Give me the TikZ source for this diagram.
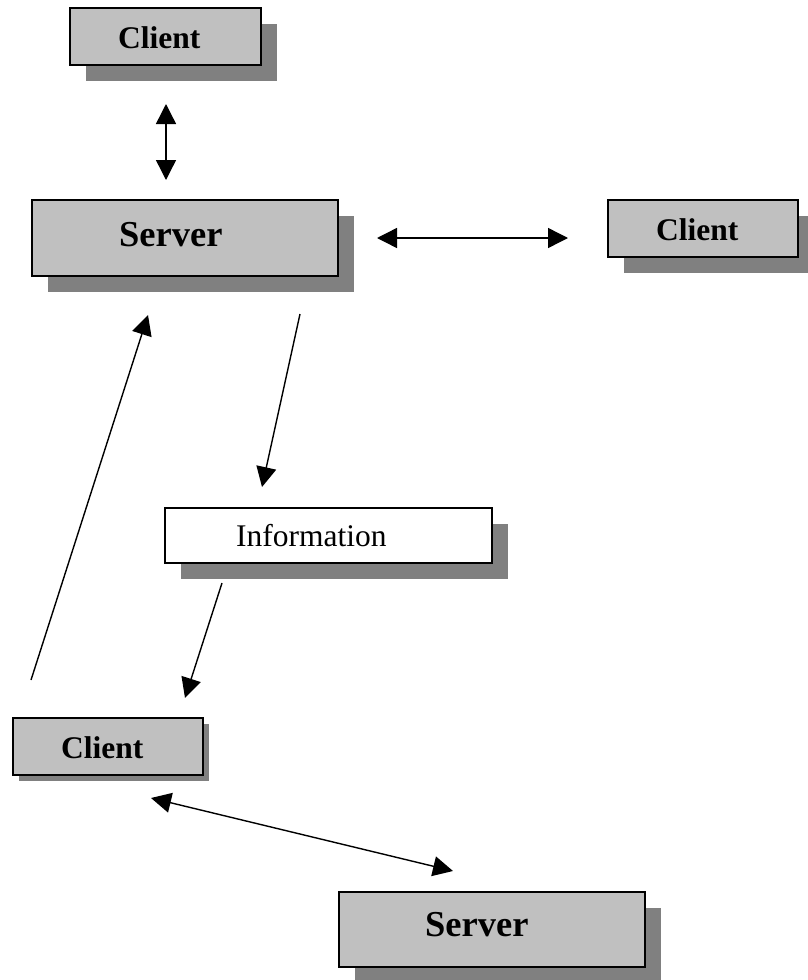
\documentclass[tikz,border=0pt]{standalone}
\usepackage{fontspec}
\setmainfont{Liberation Serif}
\usetikzlibrary{arrows.meta,shadows}
\definecolor{boxgrey}{RGB}{192,192,192}
\definecolor{shadowgrey}{RGB}{128,128,128}
\begin{document}
\begin{tikzpicture}[x=1pt,y=-1pt,
  box/.style={draw=black,line width=1.7pt,fill=boxgrey,inner sep=0pt,
    drop shadow={shadow xshift=#1,shadow yshift=-#1,fill=shadowgrey,opacity=1}},
  box/.default=16pt,
  boxlabel/.style={anchor=base west,inner sep=0pt,font=\fontsize{31.5}{36}\selectfont\bfseries},
  biglabel/.style={anchor=base west,inner sep=0pt,font=\fontsize{36.5}{42}\selectfont\bfseries},
  arr/.style={line width=1.4pt,-{Triangle[length=20pt,width=20pt]}},
  dbl/.style={line width=1.4pt,{Triangle[length=20pt,width=20pt]}-{Triangle[length=20pt,width=20pt]}}]
\useasboundingbox (0,0) rectangle (807,980);
% boxes
\node[box,minimum width=191.5pt,minimum height=57.5pt] (client1) at (165.5,36.5) {};
\node[box,minimum width=306.5pt,minimum height=76.5pt] (server1) at (185,238) {};
\node[box,minimum width=190.5pt,minimum height=57.5pt] (client2) at (703,228.5) {};
\node[box,fill=white,minimum width=327.5pt,minimum height=55.5pt] (info) at (328.5,535.5) {};
\node[box=6pt,minimum width=190.5pt,minimum height=57.5pt] (client3) at (108,746.5) {};
\node[box,minimum width=306.5pt,minimum height=75.5pt] (server2) at (492,929.5) {};
% labels
\node[boxlabel] (client1txt) at (118,48) {Client};
\node[biglabel] (server1txt) at (119,246) {Server};
\node[boxlabel] (client2txt) at (656,240) {Client};
\node[anchor=base west,inner sep=0pt,font=\fontsize{31.5}{36}\selectfont] (infotxt) at (236,546.5) {Information};
\node[boxlabel] (client3txt) at (61,758) {Client};
\node[biglabel] (server2txt) at (425,936.5) {Server};
% arrow ends
\coordinate (v1) at (166,104); \coordinate (v2) at (166,180);
\coordinate (h1) at (377,238); \coordinate (h2) at (568,238);
\coordinate (d1) at (300,314); \coordinate (d2) at (262,487);
\coordinate (u1) at (31,680); \coordinate (u2) at (148,315);
\coordinate (i1) at (222,583); \coordinate (i2) at (185,698);
\coordinate (b1) at (151,798); \coordinate (b2) at (453,871);
\draw[dbl] (v1) -- (v2);
\draw[dbl] (h1) -- (h2);
\draw[arr] (d1) -- (d2);
\draw[arr] (u1) -- (u2);
\draw[arr] (i1) -- (i2);
\draw[dbl] (b1) -- (b2);
\end{tikzpicture}
\end{document}
